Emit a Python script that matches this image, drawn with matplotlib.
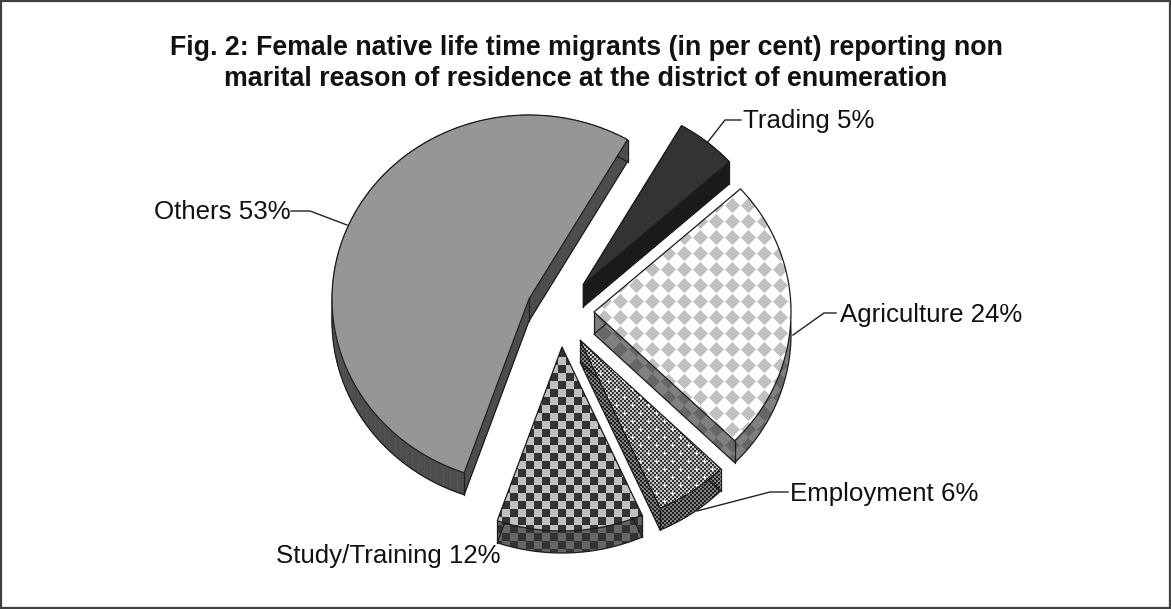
import numpy as np
import matplotlib
matplotlib.use("Agg")
import matplotlib.pyplot as plt
from matplotlib.patches import Polygon, Rectangle
from matplotlib.collections import PolyCollection

# ---- data -------------------------------------------------------------
categories = ["Trading", "Agriculture", "Employment", "Study/Training", "Others"]
shares = [5, 24, 6, 12, 53]
title_lines = ["Fig. 2: Female native life time migrants (in per cent) reporting non",
               "marital reason of residence at the district of enumeration"]

# ---- layout -----------------------------------------------------------
W, H = 1171, 609
START_DEG = 60.0           # slices run clockwise from here
RX, RY = 197.0, 184.0      # tilted pie ellipse
DEPTH = 22.0
centres = [(583, 285), (594, 312), (580, 340), (562, 347), (529, 299)]
label_pos = [(743, 121), (840, 315), (790, 494), (276, 556), (154, 212)]
leaders = [[(707, 143), (725, 120), (741, 120)],
           [(793, 335), (824, 313), (836, 313)],
           [(697, 511), (770, 492), (788, 492)],
           None,
           [(291, 211), (310, 211), (347, 225)]]
EDGE = "#1c1c1c"

yy, xx = np.mgrid[0:H, 0:W]


def rgb(h):
    return np.array(matplotlib.colors.to_rgb(h))


def two_tone(mask, a, b):
    img = np.zeros((H, W, 3))
    img[mask] = rgb(a)
    img[~mask] = rgb(b)
    return img


def diamonds(a, b):
    f = np.abs((xx - 12 + 8) % 16 - 8) + np.abs((yy - 13 + 8) % 16 - 8)
    return two_tone(f < 8, a, b)


def squares(a, b):
    return two_tone(((xx - 6) // 8 + (yy - 5) // 8) % 2 == 0, a, b)


def dither(a, b, dots=None):
    img = two_tone((xx // 2 + yy // 2) % 2 == 0, a, b)
    if dots:
        f1 = np.abs((xx - 8 + 8) % 16 - 8) + np.abs((yy - 5 + 8) % 16 - 8)
        f2 = np.abs((xx + 8) % 16 - 8) + np.abs((yy - 13 + 8) % 16 - 8)
        img[(f1 < 2) | (f2 < 2)] = rgb(dots)
    return img


top_fill = [("#333333"), diamonds("#c0c0c0", "#ffffff"),
            dither("#333333", "#c4c4c4", "#ffffff"),
            squares("#333333", "#c0c0c0"), ("#969696")]
side_fill = [("#1a1a1a"), diamonds("#666666", "#808080"),
             dither("#202020", "#808080"),
             squares("#333333", "#666666"), ("#4d4d4d")]


def slice_points(centre, a0, a1):
    t = np.radians(np.linspace(a0, a1, 90))
    cx, cy = centre
    xs = cx + RX * np.cos(t)
    ys = cy - RY * np.sin(t)
    return np.vstack([[cx, cy], np.column_stack([xs, ys])])


def hull(pts):
    p = sorted(map(tuple, pts))
    def half(seq):
        out = []
        for q in seq:
            while len(out) > 1:
                (ax_, ay), (bx, by) = out[-2], out[-1]
                if (bx - ax_) * (q[1] - ay) - (by - ay) * (q[0] - ax_) <= 0:
                    out.pop()
                else:
                    break
            out.append(q)
        return out[:-1]
    return np.array(half(p) + half(p[::-1]))


fig = plt.figure(figsize=(W / 100, H / 100), dpi=100, facecolor="white")
ax = fig.add_axes([0, 0, 1, 1])
ax.set_xlim(0, W)
ax.set_ylim(H, 0)
ax.axis("off")


def paint(poly_pts, fill, z):
    if isinstance(fill, str):
        ax.add_patch(Polygon(poly_pts, closed=True, facecolor=fill,
                             edgecolor=fill, lw=0.4, zorder=z))
    else:
        clip = Polygon(poly_pts, closed=True, transform=ax.transData)
        im = ax.imshow(fill, extent=(0, W, H, 0), interpolation="nearest",
                       aspect="auto", zorder=z)
        im.set_clip_path(clip)


# ---- slices -----------------------------------------------------------
sweeps = 360.0 * np.array(shares) / np.sum(shares)
starts = START_DEG - np.concatenate([[0], np.cumsum(sweeps)[:-1]])
order = [4, 0, 1, 3, 2]
for z0, i in enumerate(order):
    z = 2 + z0 * 3
    pts = slice_points(centres[i], starts[i], starts[i] - sweeps[i])
    low = pts + [0, DEPTH]
    if sweeps[i] < 180:
        paint(hull(np.vstack([pts, low])), side_fill[i], z)
    else:
        n = len(pts)
        quads = [[pts[k], pts[(k + 1) % n], low[(k + 1) % n], low[k]] for k in range(n)]
        ax.add_collection(PolyCollection(quads, facecolors=side_fill[i],
                                         edgecolors=side_fill[i], linewidths=0.4, zorder=z))
    ax.add_patch(Polygon(low, closed=True, fill=False, edgecolor=EDGE, lw=0.9, zorder=z + 0.5))
    for k in (0, 1, len(pts) - 1):
        ax.plot([pts[k][0], low[k][0]], [pts[k][1], low[k][1]], color=EDGE, lw=0.9, zorder=z + 0.5)
    paint(pts, top_fill[i], z + 1)
    ax.add_patch(Polygon(pts, closed=True, fill=False, edgecolor=EDGE, lw=0.9, zorder=z + 1.5))

# ---- text -------------------------------------------------------------
FONT = "Liberation Sans"
for i, name in enumerate(categories):
    ax.text(label_pos[i][0], label_pos[i][1], f"{name} {shares[i]}%", family=FONT,
            fontsize=18.6, color="#111111", ha="left", va="center", zorder=30)
    if leaders[i]:
        xs, ys = zip(*leaders[i])
        ax.plot(xs, ys, color="#222222", lw=1.0, zorder=29)

ax.text(586, 48, title_lines[0], family=FONT, fontweight="bold", fontsize=19.3,
        color="#111111", ha="center", va="center", zorder=30)
ax.text(586, 79, title_lines[1], family=FONT, fontweight="bold", fontsize=19.3,
        color="#111111", ha="center", va="center", zorder=30)

# ---- frame ------------------------------------------------------------
ax.add_patch(Rectangle((1, 1), W - 2, H - 2, fill=False, edgecolor="#404040", lw=1.6, zorder=40))

fig.savefig("out.png", dpi=100, facecolor="white")
